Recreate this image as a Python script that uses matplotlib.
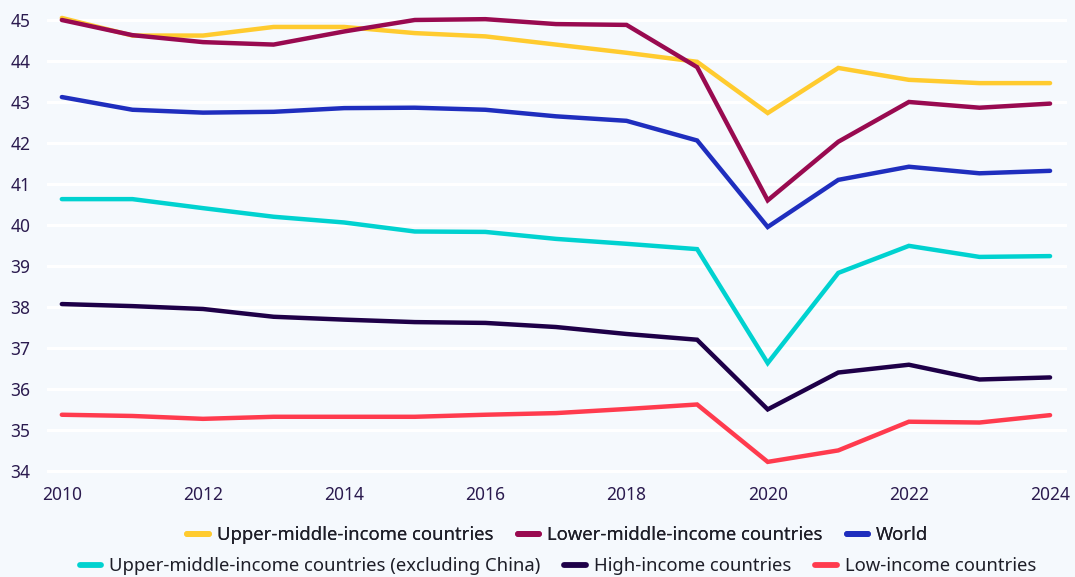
import matplotlib
matplotlib.use("Agg")
import matplotlib.pyplot as plt
from matplotlib.lines import Line2D

years = list(range(2010, 2025))

upper_middle = [45.05, 44.62, 44.62, 44.83, 44.83, 44.68, 44.60, 44.40, 44.20, 43.98, 42.73, 43.83, 43.54, 43.46, 43.46]
lower_middle = [45.00, 44.63, 44.46, 44.40, 44.72, 45.00, 45.02, 44.90, 44.88, 43.85, 40.60, 42.03, 43.00, 42.86, 42.96]
world = [43.12, 42.81, 42.74, 42.76, 42.85, 42.86, 42.81, 42.65, 42.54, 42.06, 39.95, 41.10, 41.42, 41.26, 41.32]
upper_middle_ex_china = [40.63, 40.63, 40.41, 40.20, 40.06, 39.84, 39.83, 39.66, 39.54, 39.41, 36.63, 38.83, 39.49, 39.22, 39.24]
high_income = [38.07, 38.02, 37.95, 37.76, 37.69, 37.63, 37.61, 37.51, 37.34, 37.20, 35.50, 36.40, 36.59, 36.23, 36.28]
low_income = [35.37, 35.34, 35.27, 35.32, 35.32, 35.32, 35.37, 35.41, 35.51, 35.62, 34.22, 34.50, 35.20, 35.18, 35.36]

series_labels = [
    "Upper-middle-income countries",
    "Lower-middle-income countries",
    "World",
    "Upper-middle-income countries (excluding China)",
    "High-income countries",
    "Low-income countries",
]
series_values = [upper_middle, lower_middle, world, upper_middle_ex_china, high_income, low_income]
colors = ["#FFCB2F", "#990A50", "#1F2EBE", "#00D2D0", "#1E0048", "#FF3B4E"]

y_ticks = list(range(34, 46))
x_ticks = list(range(2010, 2025, 2))

plt.rcParams['font.family'] = ['Noto Sans', 'DejaVu Sans']
bg = "#F5F9FD"
text_color = "#2B1B4F"
legend_text_color = "#1E1E28"

W, H = 1075, 577
fig = plt.figure(figsize=(W / 100, H / 100), dpi=100, facecolor=bg)
left_px, right_px, top_px, bottom_px = 47, 1067, 14, 475
ax = fig.add_axes([left_px / W, 1 - bottom_px / H, (right_px - left_px) / W, (bottom_px - top_px) / H])
ax.set_facecolor(bg)

draw_order = [3, 4, 5, 2, 0, 1]
for i in draw_order:
    ax.plot(years, series_values[i], color=colors[i], lw=3.2, solid_capstyle='round',
            solid_joinstyle='miter', zorder=3 + i * 0.01)

ax.set_ylim(33.9, 45.146)
ax.set_xlim(2009.79, 2024.24)
ax.set_yticks(y_ticks)
ax.set_xticks(x_ticks)
ax.grid(axis='y', color='white', lw=2.2, zorder=1)
ax.grid(axis='x', visible=False)
for s in ax.spines.values():
    s.set_visible(False)
ax.tick_params(axis='both', length=0, colors=text_color, labelsize=12.5)
ax.tick_params(axis='y', pad=12)
ax.tick_params(axis='x', pad=8)

def handles_for(idx):
    return [Line2D([0], [0], color=colors[i], lw=4.2, solid_capstyle='round') for i in idx]

legend_kw = dict(loc='center', ncol=3, frameon=False, fontsize=13.3, handlelength=1.15,
                 handletextpad=0.45, columnspacing=1.3, labelcolor=legend_text_color)
row1 = [0, 1, 2]
row2 = [3, 4, 5]
leg1 = fig.legend(handles_for(row1), [series_labels[i] for i in row1],
                  bbox_to_anchor=(0.519, 1 - 535 / H), **legend_kw)
fig.add_artist(leg1)
leg2 = fig.legend(handles_for(row2), [series_labels[i] for i in row2],
                  bbox_to_anchor=(0.519, 1 - 566 / H), **legend_kw)

fig.savefig("out.png", dpi=100, facecolor=bg)
